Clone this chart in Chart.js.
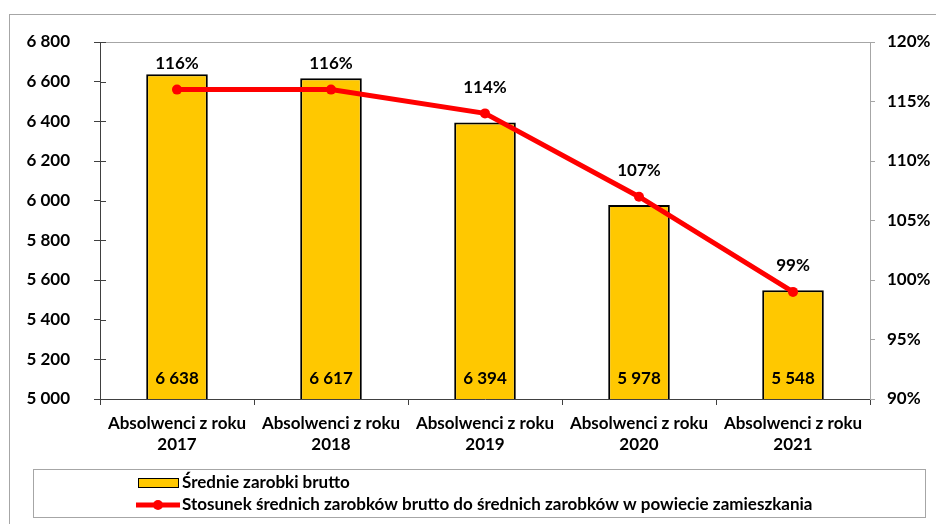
<!DOCTYPE html>
<html>
<head>
<meta charset="utf-8">
<script src="https://cdn.jsdelivr.net/npm/chart.js@4.4.1/dist/chart.umd.min.js"></script>
<style>
  html, body { margin: 0; padding: 0; background: #fff; }
  #wrap { width: 936px; height: 524px; position: relative; }
</style>
</head>
<body>
<div id="wrap"><canvas id="chart" width="936" height="524"></canvas></div>
<script>
const categories = [
    ['Absolwenci z roku', '2017'],
    ['Absolwenci z roku', '2018'],
    ['Absolwenci z roku', '2019'],
    ['Absolwenci z roku', '2020'],
    ['Absolwenci z roku', '2021']
];
const salaries = [6638, 6617, 6394, 5978, 5548];
const ratios = [116, 116, 114, 107, 99];
const salaryLabel = 'Średnie zarobki brutto';
const ratioLabel = 'Stosunek średnich zarobków brutto do średnich zarobków w powiecie zamieszkania';

const FONT = 'Lato, "Open Sans", sans-serif';
const FS = 17;
const BAR_COLOR = '#FFC800';
const LINE_COLOR = '#FF0000';

function fmt(n) {
    return String(n).replace(/\B(?=(\d{3})+(?!\d))/g, ' ');
}

// frame, plot border, inward ticks, value labels and legend box
const decor = {
    id: 'decor',
    beforeDraw(chart) {
        const ctx = chart.ctx;
        ctx.save();
        ctx.strokeStyle = '#a6a6a6';
        ctx.lineWidth = 1;
        ctx.strokeRect(9.5, 14.5, 960, 560);
        ctx.restore();
    },
    afterDatasetsDraw(chart) {
        const ctx = chart.ctx;
        const a = chart.chartArea;
        const y = chart.scales.y;
        ctx.save();
        ctx.strokeStyle = '#a6a6a6';
        ctx.lineWidth = 1;
        ctx.beginPath();
        ctx.moveTo(a.left, Math.round(a.top) + 0.5);
        ctx.lineTo(a.right, Math.round(a.top) + 0.5);
        ctx.stroke();
        ctx.strokeStyle = '#404040';
        y.ticks.forEach(t => {
            const py = Math.round(y.getPixelForValue(t.value)) + 0.5;
            ctx.beginPath();
            ctx.moveTo(a.left, py);
            ctx.lineTo(a.left + 6, py);
            ctx.stroke();
        });
        ctx.fillStyle = '#000';
        ctx.font = 'bold ' + FS + 'px ' + FONT;
        ctx.textAlign = 'center';
        ctx.textBaseline = 'middle';
        const bars = chart.getDatasetMeta(1).data;
        bars.forEach((b, i) => {
            ctx.fillText(fmt(salaries[i]), b.x, a.bottom - 20);
        });
        const pts = chart.getDatasetMeta(0).data;
        pts.forEach((p, i) => {
            ctx.fillText(ratios[i] + '%', p.x, p.y - 26);
        });

        // legend
        ctx.strokeStyle = '#a6a6a6';
        ctx.strokeRect(33.5, 469.5, 892, 48);
        ctx.fillStyle = BAR_COLOR;
        ctx.fillRect(138, 478, 40, 9);
        ctx.strokeStyle = '#000';
        ctx.strokeRect(138.5, 478.5, 40, 9);
        ctx.strokeStyle = LINE_COLOR;
        ctx.lineWidth = 5;
        ctx.beginPath();
        ctx.moveTo(136, 505);
        ctx.lineTo(180, 505);
        ctx.stroke();
        ctx.fillStyle = LINE_COLOR;
        ctx.beginPath();
        ctx.arc(158, 505, 5, 0, Math.PI * 2);
        ctx.fill();
        ctx.fillStyle = '#000';
        ctx.textAlign = 'left';
        ctx.fillText(chart.data.datasets[1].label, 182, 483);
        ctx.fillText(chart.data.datasets[0].label, 182, 505);
        ctx.restore();
    }
};

new Chart(document.getElementById('chart'), {
    data: {
        labels: categories,
        datasets: [
            {
                type: 'line',
                label: ratioLabel,
                data: ratios,
                yAxisID: 'y1',
                borderColor: LINE_COLOR,
                backgroundColor: LINE_COLOR,
                borderWidth: 5,
                pointRadius: 5,
                pointBackgroundColor: LINE_COLOR,
                pointBorderWidth: 0,
                tension: 0,
                order: 0
            },
            {
                type: 'bar',
                label: salaryLabel,
                data: salaries,
                yAxisID: 'y',
                backgroundColor: BAR_COLOR,
                borderColor: '#000',
                borderWidth: 2,
                categoryPercentage: 0.4,
                barPercentage: 1,
                order: 1
            }
        ]
    },
    options: {
        responsive: false,
        animation: false,
        layout: { padding: { top: 42, left: 0, right: 0, bottom: 0 } },
        plugins: { legend: { display: false }, tooltip: { enabled: false } },
        scales: {
            x: {
                offset: true,
                grid: { offset: true, drawOnChartArea: false, tickLength: 6, color: '#404040' },
                border: { color: '#404040' },
                ticks: { color: '#000', font: { family: FONT, size: FS, weight: 'bold', lineHeight: 1.25 }, padding: 8, maxRotation: 0, autoSkip: false },
                afterFit(s) { s.height = 125; }
            },
            y: {
                position: 'left',
                min: 5000, max: 6800,
                ticks: { stepSize: 200, color: '#000', font: { family: FONT, size: FS, weight: 'bold' }, padding: 24, callback: v => fmt(v) },
                grid: { drawOnChartArea: false, tickLength: 6, color: '#404040' },
                border: { color: '#404040' },
                afterFit(s) { s.width = 100; }
            },
            y1: {
                position: 'right',
                min: 90, max: 120,
                ticks: { stepSize: 5, color: '#000', font: { family: FONT, size: FS, weight: 'bold' }, padding: 12, callback: v => v + '%' },
                grid: { drawOnChartArea: false, tickLength: 5, color: '#a6a6a6' },
                border: { color: '#a6a6a6' },
                afterFit(s) { s.width = 66; }
            }
        }
    },
    plugins: [decor]
});
</script>
</body>
</html>
